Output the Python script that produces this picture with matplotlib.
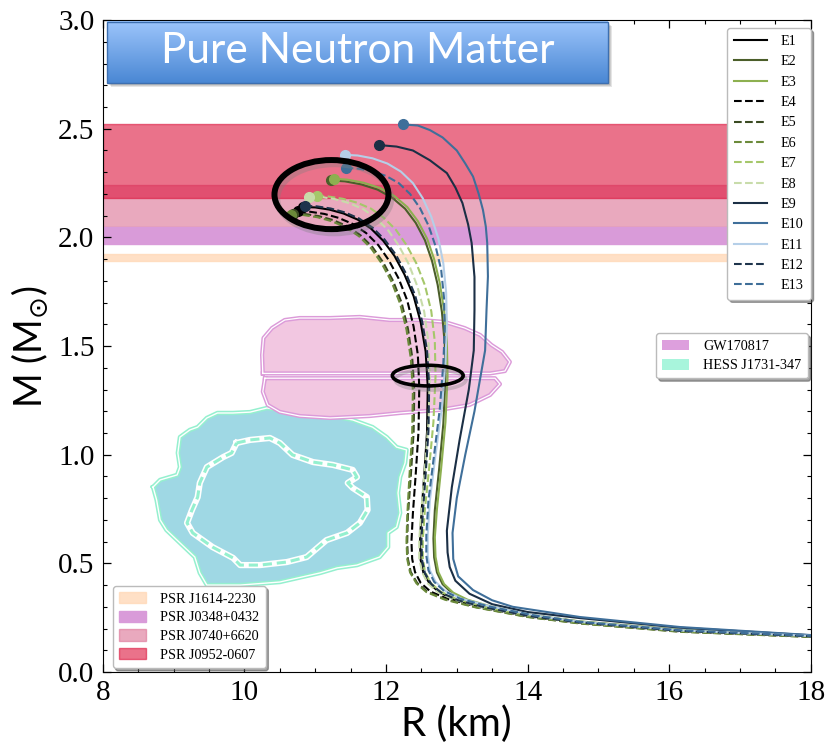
import numpy as np
import matplotlib
matplotlib.use("Agg")
import matplotlib.pyplot as plt
from matplotlib.patches import Ellipse, Rectangle, Patch
from matplotlib.lines import Line2D
from matplotlib.colors import LinearSegmentedColormap
import matplotlib.patheffects as pe

# ---------------- mass-radius curves (R in km, M in Msun) ----------------
E1_R = [10.83, 11.00, 11.20, 11.40, 11.60, 11.79, 11.96, 12.12, 12.26, 12.39, 12.49, 12.56, 12.59, 12.58, 12.54, 12.50, 12.48, 12.49, 12.53, 12.62, 12.76, 13.00, 13.38, 14.05, 14.74, 16.15, 18.0]
E1_M = [2.140, 2.138, 2.128, 2.110, 2.082, 2.040, 1.985, 1.915, 1.830, 1.730, 1.610, 1.475, 1.315, 1.105, 0.905, 0.725, 0.600, 0.515, 0.455, 0.405, 0.365, 0.330, 0.297, 0.256, 0.228, 0.189, 0.164]

E2_R = [11.22, 11.42, 11.65, 11.88, 12.09, 12.27, 12.42, 12.55, 12.65, 12.73, 12.79, 12.83, 12.84, 12.81, 12.75, 12.69, 12.67, 12.68, 12.72, 12.80, 12.93, 13.13, 13.48, 14.1, 14.74, 16.15, 18.0]
E2_M = [2.262, 2.258, 2.244, 2.220, 2.182, 2.132, 2.067, 1.987, 1.892, 1.782, 1.657, 1.512, 1.352, 1.142, 0.932, 0.745, 0.615, 0.528, 0.458, 0.404, 0.364, 0.332, 0.299, 0.259, 0.232, 0.193, 0.166]

E3_R = [11.26, 11.45, 11.68, 11.91, 12.12, 12.30, 12.45, 12.58, 12.68, 12.76, 12.82, 12.86, 12.87, 12.84, 12.78, 12.72, 12.69, 12.70, 12.74, 12.82, 12.95, 13.15, 13.50, 14.1, 14.74, 16.15, 18.0]
E3_M = [2.270, 2.266, 2.252, 2.228, 2.190, 2.140, 2.075, 1.995, 1.900, 1.790, 1.665, 1.520, 1.360, 1.150, 0.940, 0.750, 0.620, 0.530, 0.460, 0.405, 0.365, 0.333, 0.300, 0.260, 0.233, 0.194, 0.167]

E4_R = [10.76, 10.93, 11.13, 11.33, 11.53, 11.72, 11.89, 12.04, 12.18, 12.30, 12.39, 12.45, 12.47, 12.46, 12.42, 12.38, 12.36, 12.37, 12.41, 12.49, 12.63, 12.88, 13.30, 14.0, 14.74, 16.15, 18.0]
E4_M = [2.120, 2.118, 2.108, 2.090, 2.062, 2.020, 1.965, 1.895, 1.810, 1.710, 1.590, 1.460, 1.310, 1.110, 0.910, 0.730, 0.600, 0.520, 0.460, 0.410, 0.370, 0.335, 0.300, 0.256, 0.226, 0.187, 0.163]

E5_R = [10.68, 10.85, 11.05, 11.25, 11.45, 11.64, 11.81, 11.96, 12.10, 12.22, 12.31, 12.37, 12.40, 12.39, 12.35, 12.31, 12.30, 12.31, 12.35, 12.44, 12.58, 12.84, 13.28, 14.0, 14.74, 16.15, 18.0]
E5_M = [2.110, 2.108, 2.098, 2.080, 2.052, 2.010, 1.955, 1.885, 1.800, 1.700, 1.580, 1.450, 1.300, 1.100, 0.900, 0.720, 0.600, 0.520, 0.460, 0.410, 0.370, 0.335, 0.298, 0.254, 0.224, 0.186, 0.162]

E6_R = [10.66, 10.83, 11.03, 11.23, 11.43, 11.62, 11.79, 11.94, 12.08, 12.20, 12.29, 12.35, 12.38, 12.37, 12.33, 12.30, 12.29, 12.30, 12.34, 12.43, 12.57, 12.83, 13.27, 14.0, 14.74, 16.15, 18.0]
E6_M = [2.105, 2.103, 2.093, 2.075, 2.047, 2.005, 1.950, 1.880, 1.795, 1.695, 1.575, 1.445, 1.295, 1.095, 0.895, 0.715, 0.600, 0.520, 0.458, 0.408, 0.368, 0.333, 0.297, 0.253, 0.223, 0.185, 0.161]

E7_R = [11.02, 11.19, 11.39, 11.59, 11.79, 11.97, 12.14, 12.29, 12.43, 12.55, 12.64, 12.69, 12.70, 12.67, 12.61, 12.55, 12.52, 12.52, 12.55, 12.63, 12.77, 13.00, 13.40, 14.05, 14.74, 16.15, 18.0]
E7_M = [2.190, 2.188, 2.178, 2.160, 2.132, 2.090, 2.035, 1.965, 1.880, 1.780, 1.660, 1.520, 1.360, 1.150, 0.940, 0.750, 0.610, 0.525, 0.462, 0.410, 0.370, 0.335, 0.300, 0.258, 0.229, 0.190, 0.165]

E8_R = [10.91, 11.08, 11.28, 11.48, 11.68, 11.86, 12.03, 12.18, 12.32, 12.44, 12.54, 12.60, 12.62, 12.60, 12.55, 12.50, 12.47, 12.47, 12.51, 12.59, 12.73, 12.97, 13.37, 14.03, 14.74, 16.15, 18.0]
E8_M = [2.188, 2.186, 2.176, 2.158, 2.130, 2.088, 2.033, 1.963, 1.878, 1.778, 1.658, 1.518, 1.358, 1.148, 0.938, 0.748, 0.608, 0.523, 0.460, 0.408, 0.368, 0.333, 0.298, 0.257, 0.228, 0.189, 0.164]

E9_R = [11.90, 12.15, 12.38, 12.62, 12.86, 12.98, 13.08, 13.16, 13.21, 13.25, 13.25, 13.24, 13.17, 13.04, 12.93, 12.86, 12.87, 12.90, 12.98, 13.18, 13.50, 14.00, 14.74, 16.15, 18.0]
E9_M = [2.425, 2.418, 2.400, 2.355, 2.296, 2.230, 2.158, 2.060, 1.974, 1.818, 1.666, 1.480, 1.300, 1.068, 0.850, 0.650, 0.550, 0.483, 0.420, 0.360, 0.312, 0.276, 0.248, 0.204, 0.169]

E10_R = [12.24, 12.45, 12.62, 12.80, 13.00, 13.12, 13.23, 13.31, 13.37, 13.41, 13.43, 13.44, 13.42, 13.40, 13.33, 13.25, 13.12, 13.00, 12.94, 12.95, 13.02, 13.23, 13.50, 13.79, 14.74, 16.15, 18.0]
E10_M = [2.520, 2.515, 2.494, 2.460, 2.400, 2.340, 2.280, 2.200, 2.126, 2.050, 1.974, 1.820, 1.666, 1.480, 1.350, 1.200, 1.000, 0.800, 0.640, 0.520, 0.440, 0.377, 0.330, 0.300, 0.253, 0.207, 0.170]

E11_R = [11.42, 11.60, 11.81, 12.02, 12.21, 12.38, 12.52, 12.64, 12.74, 12.81, 12.85, 12.86, 12.84, 12.79, 12.70, 12.62, 12.59, 12.59, 12.62, 12.70, 12.84, 13.07, 13.47, 14.1, 14.74, 16.15, 18.0]
E11_M = [2.380, 2.377, 2.364, 2.340, 2.303, 2.250, 2.180, 2.095, 1.995, 1.880, 1.745, 1.600, 1.430, 1.215, 1.000, 0.790, 0.630, 0.535, 0.468, 0.415, 0.373, 0.337, 0.302, 0.260, 0.231, 0.192, 0.166]

E12_R = [10.85, 11.02, 11.22, 11.42, 11.62, 11.81, 11.98, 12.14, 12.28, 12.41, 12.51, 12.58, 12.61, 12.60, 12.56, 12.52, 12.50, 12.51, 12.55, 12.64, 12.78, 13.02, 13.40, 14.05, 14.74, 16.15, 18.0]
E12_M = [2.145, 2.143, 2.133, 2.115, 2.087, 2.045, 1.990, 1.920, 1.835, 1.735, 1.615, 1.480, 1.320, 1.110, 0.910, 0.730, 0.600, 0.515, 0.455, 0.405, 0.365, 0.330, 0.297, 0.256, 0.228, 0.189, 0.164]

E13_R = [11.43, 11.60, 11.80, 12.00, 12.18, 12.34, 12.48, 12.60, 12.70, 12.78, 12.82, 12.83, 12.81, 12.76, 12.68, 12.60, 12.57, 12.57, 12.60, 12.68, 12.82, 13.05, 13.45, 14.1, 14.74, 16.15, 18.0]
E13_M = [2.320, 2.317, 2.305, 2.283, 2.250, 2.200, 2.135, 2.055, 1.960, 1.850, 1.720, 1.580, 1.420, 1.210, 1.000, 0.790, 0.630, 0.535, 0.468, 0.415, 0.373, 0.337, 0.302, 0.260, 0.231, 0.192, 0.166]

eos_names = ["E1", "E2", "E3", "E4", "E5", "E6", "E7", "E8", "E9", "E10", "E11", "E12", "E13"]
eos_R = [E1_R, E2_R, E3_R, E4_R, E5_R, E6_R, E7_R, E8_R, E9_R, E10_R, E11_R, E12_R, E13_R]
eos_M = [E1_M, E2_M, E3_M, E4_M, E5_M, E6_M, E7_M, E8_M, E9_M, E10_M, E11_M, E12_M, E13_M]
eos_colors = ["#000000", "#4b5e2a", "#8db050", "#000000", "#3a4a22", "#6b8a3a",
              "#a5c76a", "#c8dcaa", "#1b2f45", "#3f6f9a", "#b5cfe8", "#1e344c", "#3e6e98"]
eos_styles = ["-", "-", "-", "--", "--", "--", "--", "--", "-", "-", "-", "--", "--"]

# ---------------- pulsar mass bands (Msun) ----------------
psr_names = ["PSR J1614-2230", "PSR J0348+0432", "PSR J0740+6620", "PSR J0952-0607"]
psr_low = [1.892, 1.97, 2.05, 2.18]
psr_high = [1.924, 2.05, 2.24, 2.52]
psr_colors = ["#ffd9b8", "#d99bd9", "palevioletred", "crimson"]
psr_alpha = [0.8, 1.0, 0.6, 0.6]

# ---------------- GW170817 contour (two lobes) ----------------
gw_upper_R = [10.26, 10.25, 10.27, 10.39, 10.57, 10.78, 11.21, 11.63, 12.05, 12.48, 12.83, 13.11, 13.33, 13.49, 13.64, 13.75, 13.68, 13.47]
gw_upper_M = [1.374, 1.459, 1.537, 1.583, 1.620, 1.629, 1.629, 1.634, 1.620, 1.620, 1.611, 1.583, 1.551, 1.505, 1.473, 1.427, 1.385, 1.374]
gw_lower_R = [10.29, 13.54, 13.61, 13.47, 13.18, 12.76, 12.20, 11.77, 11.21, 10.78, 10.50, 10.33, 10.26]
gw_lower_M = [1.352, 1.352, 1.325, 1.275, 1.229, 1.206, 1.192, 1.178, 1.169, 1.178, 1.197, 1.229, 1.290]

# ---------------- HESS J1731-347 contours ----------------
hess_outer_R = [8.71, 8.81, 9.05, 9.09, 9.06, 9.09, 9.23, 9.34, 9.47, 9.62, 9.84, 10.08, 10.32, 10.50, 10.74, 11.07, 11.25, 11.39, 11.38, 11.53, 11.81, 12.01, 12.15, 12.29, 12.27, 12.20, 12.17, 12.20, 12.15, 12.03, 12.03, 11.91, 11.59, 11.31, 11.07, 10.50, 9.94, 9.47, 9.37, 9.30, 9.09, 8.90, 8.81, 8.76]
hess_outer_M = [0.851, 0.884, 0.907, 0.943, 1.008, 1.081, 1.114, 1.127, 1.169, 1.192, 1.192, 1.196, 1.215, 1.206, 1.183, 1.173, 1.206, 1.215, 1.169, 1.160, 1.127, 1.081, 1.035, 1.022, 0.962, 0.897, 0.824, 0.732, 0.667, 0.640, 0.575, 0.529, 0.492, 0.479, 0.456, 0.414, 0.400, 0.400, 0.456, 0.529, 0.594, 0.653, 0.700, 0.792]
hess_inner_R = [9.89, 10.08, 10.36, 10.50, 10.68, 10.97, 11.25, 11.53, 11.59, 11.46, 11.53, 11.73, 11.74, 11.63, 11.45, 11.16, 10.88, 10.60, 10.22, 9.94, 9.84, 9.55, 9.27, 9.19, 9.26, 9.34, 9.37, 9.47, 9.70, 9.82]
hess_inner_M = [1.054, 1.068, 1.077, 1.054, 0.999, 0.966, 0.953, 0.930, 0.897, 0.870, 0.847, 0.805, 0.746, 0.686, 0.640, 0.607, 0.529, 0.506, 0.492, 0.492, 0.525, 0.575, 0.640, 0.686, 0.746, 0.805, 0.870, 0.943, 0.989, 1.008]

serif = "Liberation Serif"
sans = "Lato"

fig = plt.figure(figsize=(8.29, 7.45), dpi=100)
ax = fig.add_axes([0.124, 0.098, 0.854, 0.875])

# pulsar bands
band_order = [2, 1, 0, 3]
for i in band_order:
    ax.axhspan(psr_low[i], psr_high[i], facecolor=psr_colors[i], alpha=psr_alpha[i],
               edgecolor=psr_colors[i], lw=1.0, zorder=1)

# HESS J1731-347
hx = np.r_[hess_outer_R, hess_outer_R[0]]
hy = np.r_[hess_outer_M, hess_outer_M[0]]
ax.fill(hx, hy, facecolor="#9fd8e4", edgecolor="none", zorder=2)
ax.plot(hx, hy, color="#95f0cf", lw=3.2, zorder=2.1)
ax.plot(hx, hy, color="white", lw=1.0, zorder=2.2)
ix = np.r_[hess_inner_R, hess_inner_R[0]]
iy = np.r_[hess_inner_M, hess_inner_M[0]]
ax.plot(ix, iy, color="white", lw=4.5, zorder=2.3)
ax.plot(ix, iy, color="#95f0cf", lw=2.2, ls=(0, (3, 1.6)), zorder=2.4)

# GW170817
for gr, gm in [(gw_upper_R, gw_upper_M), (gw_lower_R, gw_lower_M)]:
    px = np.r_[gr, gr[0]]
    py = np.r_[gm, gm[0]]
    ax.fill(px, py, facecolor="#f2c7e1", edgecolor="none", zorder=2.5)
    ax.plot(px, py, color="#dc9bd9", lw=3.0, zorder=2.6)
    ax.plot(px, py, color="white", lw=0.9, zorder=2.7)

# EoS curves with maximum-mass dots
for name, r, m, c, ls in zip(eos_names, eos_R, eos_M, eos_colors, eos_styles):
    ax.plot(r, m, color=c, ls=ls, lw=1.5, zorder=4)
    ax.plot(r[0], m[0], "o", color=c, ms=7, zorder=4.5)

# highlight ellipses
shadow = [pe.SimpleLineShadow(offset=(2, -3), shadow_color="gray", alpha=0.35), pe.Normal()]
ell_big = Ellipse((11.23, 2.197), 1.61, 0.318, fill=False, edgecolor="black", lw=4.3, zorder=6)
ell_big.set_path_effects(shadow)
ax.add_patch(ell_big)
ell_small = Ellipse((12.59, 1.364), 1.0, 0.095, fill=False, edgecolor="black", lw=2.6, zorder=6)
ell_small.set_path_effects(shadow)
ax.add_patch(ell_small)

# title banner
bx0, bx1, by0, by1 = 8.06, 15.13, 2.712, 2.993
for k in range(4):
    d = 0.012 * (k + 1)
    ax.add_patch(Rectangle((bx0 + d * 1.2, by0 - d * 0.45), bx1 - bx0, by1 - by0,
                           facecolor="black", edgecolor="none", alpha=0.10, zorder=7))
grad = np.linspace(0, 1, 100).reshape(-1, 1)
bcmap = LinearSegmentedColormap.from_list("banner", ["#4a87d4", "#9cc5fb"])
ax.imshow(grad, extent=[bx0, bx1, by0, by1], cmap=bcmap, aspect="auto", zorder=7.5,
          origin="lower", interpolation="bilinear")
ax.add_patch(Rectangle((bx0, by0), bx1 - bx0, by1 - by0, facecolor="none",
                       edgecolor="#3d6fb0", lw=1.0, zorder=7.6))
ax.text((bx0 + bx1) / 2, (by0 + by1) / 2 + 0.005, "Pure Neutron Matter", color="white",
        fontsize=30.5, family=sans, ha="center", va="center", zorder=8)
ax.set_xlim(8, 18)
ax.set_ylim(0, 3)

# axes styling
ax.set_xticks([8, 10, 12, 14, 16, 18])
ax.set_yticks([0.0, 0.5, 1.0, 1.5, 2.0, 2.5, 3.0])
ax.set_yticklabels(["0.0", "0.5", "1.0", "1.5", "2.0", "2.5", "3.0"])
ax.set_xticks(np.arange(8, 18.01, 0.5), minor=True)
ax.set_yticks(np.arange(0, 3.001, 0.1), minor=True)
ax.tick_params(which="both", direction="in", top=True, right=True)
ax.tick_params(which="major", length=6, width=0.9, labelsize=21, pad=6)
ax.tick_params(which="minor", length=3, width=0.8)
for lab in ax.get_xticklabels() + ax.get_yticklabels():
    lab.set_family(serif)
ax.set_xlabel("R (km)", family=sans, fontsize=29, labelpad=-1)
ax.set_ylabel(r"M (M$_{\odot}$)", family=sans, fontsize=27, labelpad=6)

# legends
fs = 10.2
eos_handles = [Line2D([], [], color=c, ls=ls, lw=1.5) for c, ls in zip(eos_colors, eos_styles)]
leg1 = ax.legend(eos_handles, eos_names, loc="upper right", bbox_to_anchor=(1.0, 0.988),
                 borderaxespad=0, prop={"family": serif, "size": fs}, shadow=True,
                 handlelength=2.3, labelspacing=0.52, borderpad=0.5, handletextpad=1.0,
                 framealpha=1, edgecolor="#bbbbbb")
leg1.set_zorder(10)
ax.add_artist(leg1)

psr_handles = [Patch(facecolor=psr_colors[i], alpha=psr_alpha[i], edgecolor=psr_colors[i])
               for i in range(4)]
leg2 = ax.legend(psr_handles, psr_names, loc="lower left", bbox_to_anchor=(0.014, 0.006),
                 borderaxespad=0, prop={"family": serif, "size": fs}, shadow=True,
                 handlelength=1.9, handleheight=0.85, labelspacing=0.36, borderpad=0.45,
                 handletextpad=1.0, framealpha=1, edgecolor="#bbbbbb")
leg2.set_zorder(10)
ax.add_artist(leg2)

obs_handles = [Patch(facecolor="#dd9fdd", edgecolor="none"), Patch(facecolor="#a8f5dc", edgecolor="none")]
leg3 = ax.legend(obs_handles, ["GW170817", "HESS J1731-347"], loc="center right",
                 bbox_to_anchor=(0.996, 0.485), borderaxespad=0,
                 prop={"family": serif, "size": fs}, shadow=True, handlelength=1.9,
                 handleheight=0.8, labelspacing=0.4, borderpad=0.45, handletextpad=1.0,
                 framealpha=1, edgecolor="#bbbbbb")
leg3.set_zorder(10)

fig.savefig("out.png", dpi=100)
